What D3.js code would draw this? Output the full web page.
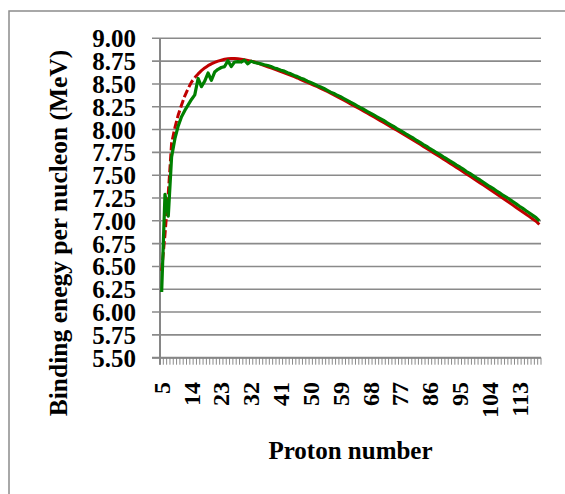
<!DOCTYPE html>
<html><head><meta charset="utf-8">
<script src="https://cdn.jsdelivr.net/npm/d3@7"></script>
<style>
html,body{margin:0;padding:0;background:#fff;}
svg{display:block;}
text{font-family:"Liberation Serif","Times New Roman",serif;font-weight:bold;fill:#000;}
</style></head>
<body>
<svg id="chart" width="565" height="494"></svg>
<script>
const protons = d3.range(5, 120);
const xTickLabels = ["5","14","23","32","41","50","59","68","77","86","95","104","113"];
const yTicks = [5.5,5.75,6,6.25,6.5,6.75,7,7.25,7.5,7.75,8,8.25,8.5,8.75,9];
const redDashedUntil = 15;
const semiEmpirical = [
6.45,6.85,7.30,7.85,8.02,8.16,8.27,8.37,8.45,8.52,8.57,8.61,8.645,8.675,8.70,
8.72,8.735,8.75,8.76,8.77,8.775,8.78,8.78,8.775,8.77,8.765,8.758,8.75,8.74,8.728,
8.715,8.70,8.688,8.675,8.662,8.65,8.635,8.622,8.608,8.594,8.58,8.565,8.548,8.532,8.516,
8.50,8.485,8.47,8.452,8.435,8.417,8.398,8.38,8.36,8.341,8.322,8.302,8.282,8.262,8.242,
8.222,8.202,8.182,8.161,8.14,8.119,8.098,8.077,8.056,8.035,8.013,7.992,7.97,7.948,7.926,
7.904,7.882,7.86,7.838,7.815,7.793,7.77,7.747,7.724,7.701,7.678,7.655,7.632,7.608,7.585,
7.561,7.538,7.514,7.49,7.466,7.442,7.418,7.394,7.37,7.345,7.321,7.296,7.272,7.247,7.222,
7.197,7.172,7.147,7.122,7.097,7.071,7.046,7.02,6.995,6.96
];
const experimental = [
6.22,7.29,7.05,7.70,7.90,8.04,8.14,8.21,8.27,8.33,8.38,8.56,8.47,8.53,8.62,
8.54,8.63,8.66,8.68,8.69,8.755,8.69,8.74,8.745,8.74,8.76,8.72,8.75,8.735,8.728,
8.72,8.71,8.702,8.69,8.675,8.665,8.65,8.64,8.622,8.61,8.592,8.58,8.562,8.55,8.53,
8.515,8.50,8.48,8.466,8.45,8.43,8.41,8.395,8.375,8.36,8.34,8.32,8.30,8.282,8.26,
8.24,8.222,8.20,8.18,8.16,8.14,8.12,8.10,8.076,8.055,8.035,8.01,7.99,7.97,7.946,
7.925,7.905,7.88,7.86,7.836,7.815,7.79,7.77,7.746,7.725,7.70,7.68,7.656,7.635,7.61,
7.59,7.566,7.54,7.52,7.495,7.47,7.45,7.425,7.40,7.376,7.355,7.33,7.306,7.28,7.26,
7.236,7.21,7.186,7.16,7.136,7.11,7.086,7.06,7.035,7.0
];

const svg = d3.select("#chart");
const L = 160, R = 541, T = 38.3, B = 357.7;

// outer frame
svg.append("rect").attr("x",9).attr("y",11).attr("width",620).attr("height",620)
  .attr("fill","none").attr("stroke","#8c8c8c").attr("stroke-width",1.5);

const x = d3.scaleBand().domain(protons).range([L, R]).padding(0);
const y = d3.scaleLinear().domain([5.5, 9]).range([B, T]);
const cx = z => x(z) + x.bandwidth()/2;

// gridlines
svg.append("g").selectAll("line").data(yTicks).join("line")
  .attr("x1", L - 8).attr("x2", R)
  .attr("y1", d => y(d)).attr("y2", d => y(d))
  .attr("stroke", "#8a8a8a").attr("stroke-width", 1.6);

// y axis labels
const yAxis = d3.axisLeft(y).tickValues(yTicks).tickFormat(d3.format(".2f")).tickSize(0).tickPadding(0);
const gy = svg.append("g").attr("transform", `translate(${L - 24},0)`).call(yAxis);
gy.select(".domain").remove();
gy.selectAll("text").attr("font-size", 25).attr("dy", "0.34em")
  .style("font-family", '"Liberation Serif","Times New Roman",serif').style("font-weight","bold").attr("fill","#000");

// category ticks
const tickPos = protons.map(z => x(z)).concat([R]);
svg.append("g").selectAll("line").data(tickPos).join("line")
  .attr("x1", d => d).attr("x2", d => d).attr("y1", B).attr("y2", B + 7)
  .attr("stroke", "#8a8a8a").attr("stroke-width", 1);

// axis lines
svg.append("line").attr("x1", L).attr("x2", L).attr("y1", T).attr("y2", B + 7)
  .attr("stroke", "#868686").attr("stroke-width", 2);
svg.append("line").attr("x1", L - 8).attr("x2", R).attr("y1", B).attr("y2", B)
  .attr("stroke", "#868686").attr("stroke-width", 2);

// x labels
svg.append("g").selectAll("text").data(xTickLabels).join("text")
  .attr("transform", d => `translate(${cx(+d)},382) rotate(-90)`)
  .attr("text-anchor", "end").attr("dy", "0.34em").attr("font-size", 24)
  .text(d => d);

// lines
const redData = protons.map((z,i) => ({z, v: semiEmpirical[i]}));
const greenData = protons.map((z,i) => ({z, v: experimental[i]}));
const line = d3.line().x(d => cx(d.z)).y(d => y(d.v));
svg.append("path").datum(redData.filter(d => d.z >= redDashedUntil))
  .attr("d", line).attr("fill","none").attr("stroke","#c00000").attr("stroke-width",3)
  .attr("stroke-linejoin","round");
svg.append("path").datum(redData.filter(d => d.z <= redDashedUntil))
  .attr("d", line).attr("fill","none").attr("stroke","#c00000").attr("stroke-width",3)
  .attr("stroke-dasharray","8,3").attr("stroke-linejoin","round");
svg.append("path").datum(greenData)
  .attr("d", line).attr("fill","none").attr("stroke","#008000").attr("stroke-width",3.2)
  .attr("stroke-linejoin","round");

// titles
svg.append("text").attr("x", (L + R)/2).attr("y", 459).attr("text-anchor","middle")
  .attr("font-size", 25).text("Proton number");
svg.append("text").attr("transform", "translate(67,233) rotate(-90)")
  .attr("text-anchor","middle").attr("font-size", 25.5)
  .text("Binding enegy per nucleon (MeV)");
</script>
</body></html>
